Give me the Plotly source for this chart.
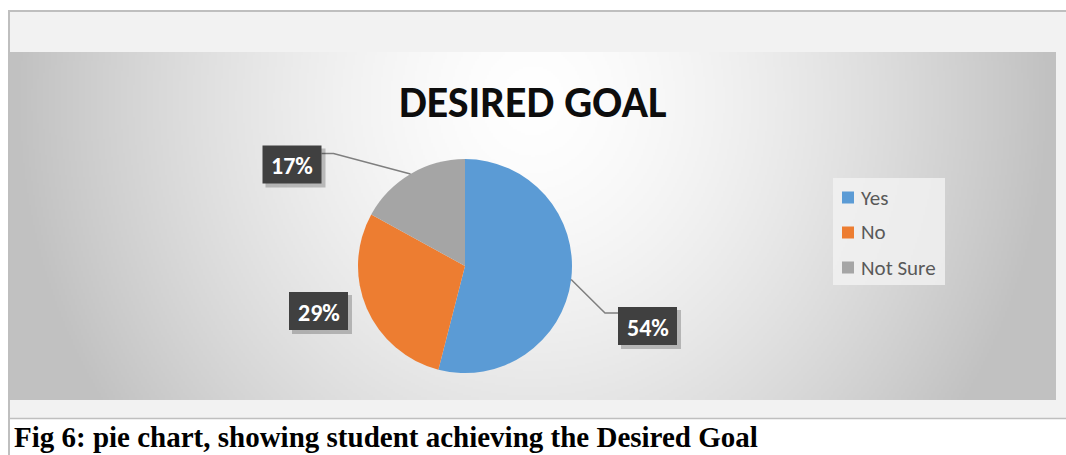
import base64, struct, zlib
import numpy as np
import plotly.graph_objects as go

# ---------------- data ----------------
categories = ["Yes", "No", "Not Sure"]
values = [54, 29, 17]
colors = ["#5b9bd5", "#ed7d31", "#a5a5a5"]
title_text = "DESIRED GOAL"
caption_text = "Fig 6: pie chart, showing student achieving the Desired Goal"

# ---------------- layout constants (pixels) ----------------
W, H = 1066, 455
CX, CY, R = 465, 266, 107           # pie centre / radius
LABEL_W, LABEL_H = 59, 38
GRAD = (10, 52, 1056, 400)           # gradient chart area x0,y0,x1,y1
label_pos = {"Yes": (647.5, 326), "No": (318.5, 311), "Not Sure": (292, 164.5)}


def px(x):
    return x / W


def py(y):
    return 1 - y / H


def png_uri(arr):
    h, w = arr.shape
    raw = b"".join(b"\x00" + arr[i].tobytes() for i in range(h))

    def chunk(tag, data):
        return (struct.pack(">I", len(data)) + tag + data +
                struct.pack(">I", zlib.crc32(tag + data) & 0xFFFFFFFF))

    png = (b"\x89PNG\r\n\x1a\n" +
           chunk(b"IHDR", struct.pack(">IIBBBBB", w, h, 8, 0, 0, 0, 0)) +
           chunk(b"IDAT", zlib.compress(raw, 9)) + chunk(b"IEND", b""))
    return "data:image/png;base64," + base64.b64encode(png).decode()


# background radial gradient (styling only)
gx0, gy0, gx1, gy1 = GRAD
gw, gh = (gx1 - gx0) // 2, (gy1 - gy0) // 2
xs = np.linspace(gx0, gx1, gw)
ys = np.linspace(gy0, gy1, gh)
XX, YY = np.meshgrid(xs, ys)
rr = np.sqrt(((XX - 533) / 520) ** 2 + ((YY - 100) / 560) ** 2)
img = (255 - 62 * np.clip(rr, 0, 1) ** 1.5).astype(np.uint8)
grad_uri = png_uri(img)

fig = go.Figure()

fig.add_trace(go.Pie(
    labels=categories, values=values, sort=False, direction="clockwise",
    rotation=0, textinfo="none", hoverinfo="label+percent",
    marker=dict(colors=colors, line=dict(width=0)),
    domain=dict(x=[px(CX - R), px(CX + R)], y=[py(CY + R), py(CY - R)]),
    showlegend=False,
))

shapes = []
line_col = "#bfbfbf"
# frame bands around gradient area
for (x0, y0, x1, y1) in [(10, 12, W, 52), (10, 400, W, 418), (1056, 52, W, 400)]:
    shapes.append(dict(type="rect", xref="paper", yref="paper", layer="below",
                       x0=px(x0), x1=px(x1), y0=py(y1), y1=py(y0),
                       fillcolor="#f2f2f2", line=dict(width=0)))
shapes.append(dict(type="line", xref="paper", yref="paper", layer="below",
                   x0=px(9), x1=px(9), y0=py(H), y1=py(10),
                   line=dict(color=line_col, width=2)))
shapes.append(dict(type="line", xref="paper", yref="paper", layer="below",
                   x0=px(8), x1=px(W), y0=py(11), y1=py(11),
                   line=dict(color=line_col, width=2)))
shapes.append(dict(type="line", xref="paper", yref="paper", layer="below",
                   x0=px(8), x1=px(W), y0=py(418.5), y1=py(418.5),
                   line=dict(color=line_col, width=1.5)))

annotations = []
total = sum(values)
cum = 0
for cat, v in zip(categories, values):
    mid = (cum + v / 2) / total
    cum += v
    ang = 2 * np.pi * mid
    ex, ey = CX + R * np.sin(ang), CY - R * np.cos(ang)
    bx, by = label_pos[cat]
    # leader lines (only when the box is far from the slice)
    if cat == "Yes":
        path = (f"M {px(ex)},{py(ey)} L {px(bx - LABEL_W/2 - 13)},{py(by - 13)} "
                f"L {px(bx - LABEL_W/2)},{py(by - 13)}")
        shapes.append(dict(type="path", xref="paper", yref="paper", path=path,
                           line=dict(color="#7f7f7f", width=1.5)))
    elif cat == "Not Sure":
        path = (f"M {px(ex)},{py(ey)} L {px(bx + LABEL_W/2 + 12)},{py(by - 11)} "
                f"L {px(bx + LABEL_W/2)},{py(by - 11)}")
        shapes.append(dict(type="path", xref="paper", yref="paper", path=path,
                           line=dict(color="#7f7f7f", width=1.5)))
    # shadow + box
    shapes.append(dict(type="rect", xref="paper", yref="paper",
                       x0=px(bx - LABEL_W/2 + 3), x1=px(bx + LABEL_W/2 + 4),
                       y0=py(by + LABEL_H/2 + 4), y1=py(by - LABEL_H/2 + 3),
                       fillcolor="rgba(0,0,0,0.22)", line=dict(width=0)))
    shapes.append(dict(type="rect", xref="paper", yref="paper",
                       x0=px(bx - LABEL_W/2), x1=px(bx + LABEL_W/2),
                       y0=py(by + LABEL_H/2), y1=py(by - LABEL_H/2),
                       fillcolor="#404040", line=dict(width=0)))
    annotations.append(dict(x=px(bx), y=py(by + 1), xref="paper", yref="paper",
                            text=f"<b>{round(v / total * 100)}%</b>",
                            showarrow=False, xanchor="center", yanchor="middle",
                            font=dict(family="Carlito, Lato, sans-serif", size=24,
                                      color="white")))

# legend (manual)
LEG = (833, 178, 945, 285)
shapes.append(dict(type="rect", xref="paper", yref="paper",
                   x0=px(LEG[0]), x1=px(LEG[2]), y0=py(LEG[3]), y1=py(LEG[1]),
                   fillcolor="rgba(242,242,242,0.8)", line=dict(width=0)))
for i, (cat, col) in enumerate(zip(categories, colors)):
    yc = 197.5 + 35 * i
    shapes.append(dict(type="rect", xref="paper", yref="paper",
                       x0=px(842), x1=px(854), y0=py(yc + 6), y1=py(yc - 6),
                       fillcolor=col, line=dict(width=0)))
    annotations.append(dict(x=px(859), y=py(yc), xref="paper", yref="paper",
                            text=cat, showarrow=False, xanchor="left",
                            yanchor="middle",
                            font=dict(family="Carlito, Lato, sans-serif", size=21,
                                      color="#595959")))

# title
annotations.append(dict(x=px(533), y=py(102), xref="paper", yref="paper",
                        text=f"<b>{title_text}</b>", showarrow=False,
                        xanchor="center", yanchor="middle",
                        font=dict(family="Carlito, Lato, sans-serif", size=44,
                                  color="#0d0d0d")))
# caption
annotations.append(dict(x=px(12), y=py(437), xref="paper", yref="paper",
                        text=f"<b>{caption_text}</b>", showarrow=False,
                        xanchor="left", yanchor="middle",
                        font=dict(family="Liberation Serif, Times New Roman, serif",
                                  size=29, color="black")))

fig.update_layout(
    width=W, height=H, margin=dict(l=0, r=0, t=0, b=0),
    paper_bgcolor="white", plot_bgcolor="white", showlegend=False,
    shapes=shapes, annotations=annotations,
    images=[dict(source=grad_uri, xref="paper", yref="paper",
                 x=px(GRAD[0]), y=py(GRAD[1]),
                 sizex=px(GRAD[2]) - px(GRAD[0]), sizey=(GRAD[3] - GRAD[1]) / H,
                 xanchor="left", yanchor="top", sizing="stretch", layer="below")],
)

fig.write_html("out.html", config={"displayModeBar": False},
               post_script="document.body.style.margin='0';")
